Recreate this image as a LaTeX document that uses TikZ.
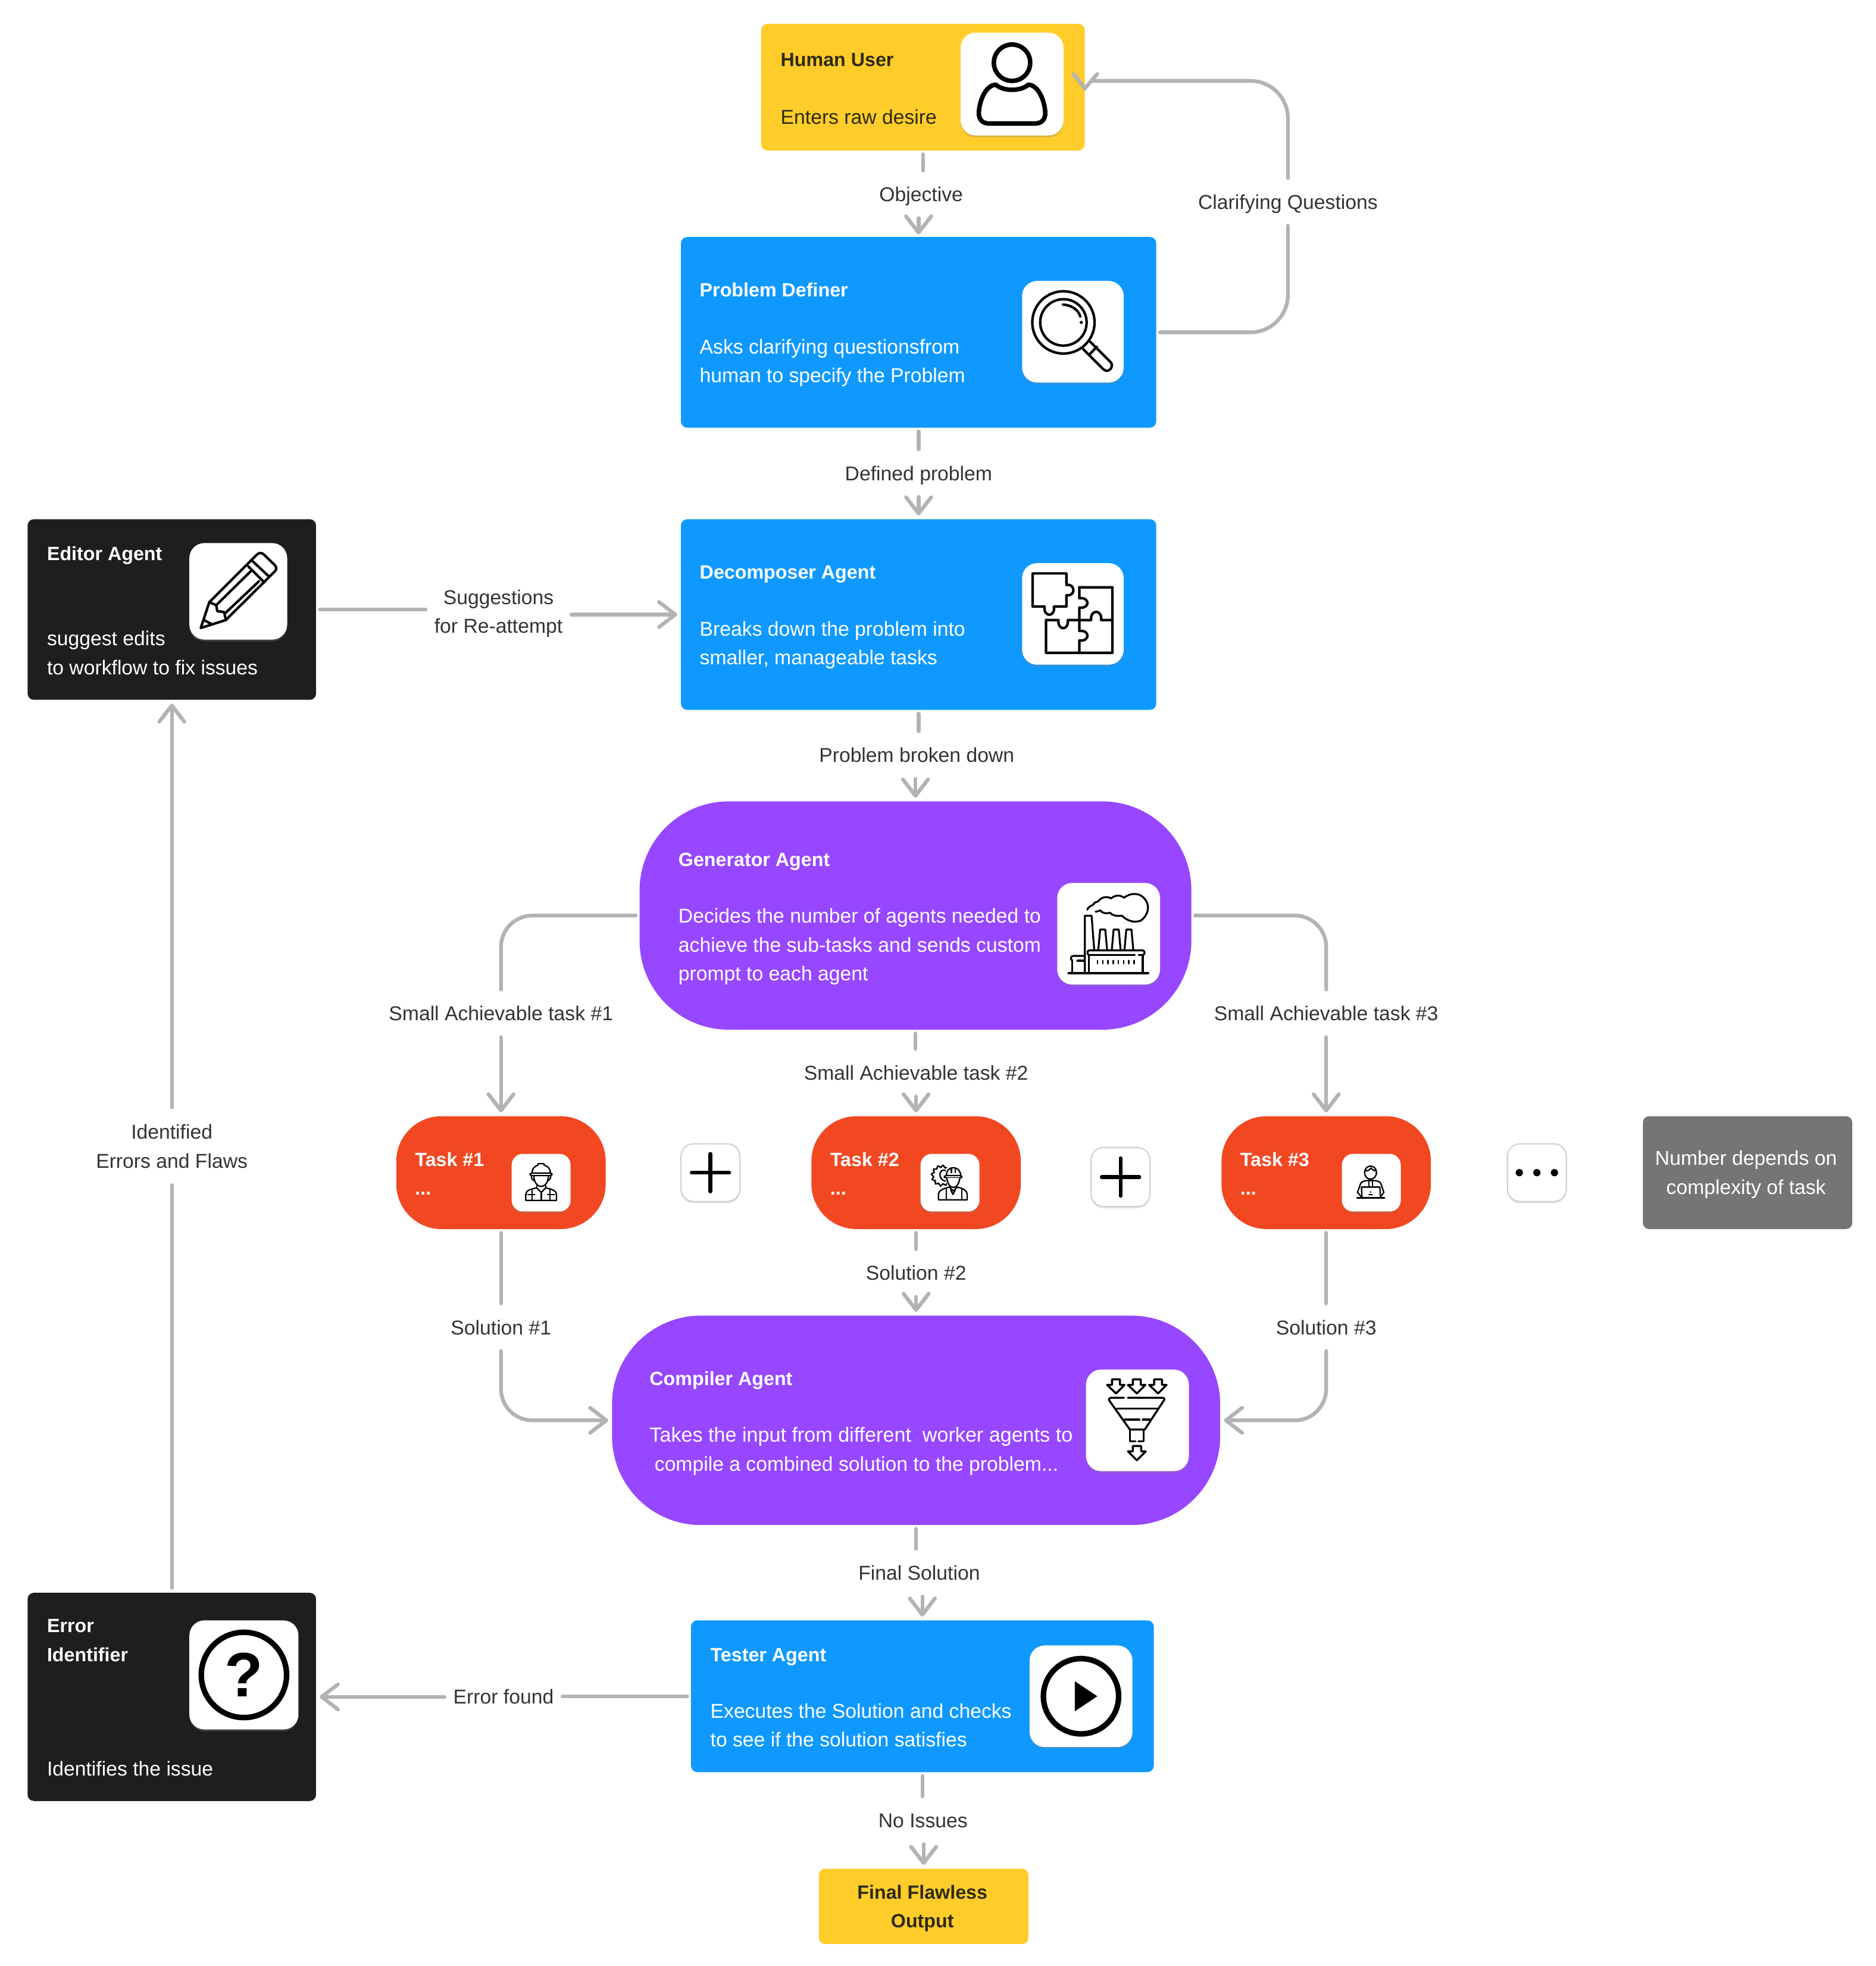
\documentclass[tikz,border=0pt]{standalone}
\usepackage{fontspec}
\setmainfont{Liberation Sans}
\usetikzlibrary{arrows.meta,calc,shadows}
\definecolor{cyel}{HTML}{FFCC29}
\definecolor{cblu}{HTML}{0F99FF}
\definecolor{cpur}{HTML}{9747FF}
\definecolor{cred}{HTML}{F24822}
\definecolor{cblk}{HTML}{1E1E1E}
\definecolor{cgry}{HTML}{757575}
\definecolor{cline}{HTML}{B3B3B3}
\definecolor{clab}{HTML}{333333}
\definecolor{cdark}{HTML}{2E2A12}
\newcommand{\bxn}[6]{%
  \pgfmathsetmacro{\bw}{#4-#2}\pgfmathsetmacro{\bh}{#5-#3}%
  \pgfmathsetmacro{\bcx}{(#4+#2)/2}\pgfmathsetmacro{\bcy}{(#5+#3)/2}%
  \node[boxbase,#6,minimum width=\bw pt,minimum height=\bh pt] (#1) at (\bcx,\bcy) {};}
\tikzset{
  x=1pt,y=-1pt,
  boxbase/.style={rectangle,inner sep=0pt,outer sep=0pt},
  rbox/.style={rounded corners=5pt},
  iconbox/.style={fill=white,rounded corners=12pt,drop shadow={shadow xshift=0pt,shadow yshift=-1.5pt,opacity=.3}},
  btnbox/.style={fill=white,draw=black!18,line width=1pt,rounded corners=10pt,drop shadow={shadow xshift=0pt,shadow yshift=-1.5pt,opacity=.2}},
  txt/.style={inner sep=0pt,outer sep=0pt,anchor=west,text height=11.5pt,text depth=0pt,font=\fontsize{16}{23}\selectfont},
  ttl/.style={txt,font=\fontsize{15.3}{23}\selectfont\bfseries},
  mtxt/.style={inner sep=0pt,outer sep=0pt,anchor=west,align=left,font=\fontsize{16}{23}\selectfont},
  lab/.style={inner xsep=7pt,inner ysep=0pt,outer sep=0pt,minimum height=38pt,text height=11.5pt,text depth=0pt,text=clab,font=\fontsize{16}{23}\selectfont},
  mlab/.style={inner xsep=7pt,inner ysep=0pt,outer sep=0pt,align=center,text=clab,font=\fontsize{16}{23}\selectfont},
  conn/.style={draw=cline,line width=3pt,line cap=round},
  arr/.style={conn,-{Straight Barb[length=13pt,width=20pt,round]}},
  ico/.style={draw=black,line width=2pt,line cap=round,line join=round},
  zm/.style 2 args={shift={(#1/2.107,#2/2.107)},x=0.1582pt,y=-0.1582pt},
}
\begin{document}
\begin{tikzpicture}
\useasboundingbox (0,0) rectangle (1495.5,1567.6);
\fill[white] (0,0) rectangle (1495.5,1567.6);

% ---------- boxes
\bxn{human}{607}{19}{865}{120}{fill=cyel,rbox}
\bxn{pd}{543}{189}{922}{341}{fill=cblu,rbox}
\bxn{dec}{543}{414}{922}{566}{fill=cblu,rbox}
\bxn{ed}{22}{414}{252}{558}{fill=cblk,rbox}
\bxn{gen}{510}{639}{950}{821}{fill=cpur,rounded corners=71pt}
\bxn{tone}{316}{890}{483}{980}{fill=cred,rounded corners=36pt}
\bxn{ttwo}{647}{890}{814}{980}{fill=cred,rounded corners=36pt}
\bxn{tthree}{974}{890}{1141}{980}{fill=cred,rounded corners=36pt}
\bxn{num}{1310}{890}{1477}{980}{fill=cgry,rbox}
\bxn{comp}{488}{1049}{973}{1216}{fill=cpur,rounded corners=71pt}
\bxn{test}{551}{1292}{920}{1413}{fill=cblu,rbox}
\bxn{err}{22}{1270}{252}{1436}{fill=cblk,rbox}
\bxn{fin}{653}{1490}{820}{1550}{fill=cyel,rbox}

% ---------- icon tiles
\bxn{ihuman}{766}{26}{848}{108}{iconbox}
\bxn{ipd}{815}{224}{896}{305}{iconbox}
\bxn{idec}{815}{449}{896}{530}{iconbox}
\bxn{ied}{151}{433}{229}{510}{iconbox}
\bxn{igen}{843}{704}{925}{785}{iconbox}
\bxn{ione}{408}{920}{455}{966}{iconbox,rounded corners=9pt}
\bxn{itwo}{734}{920}{781}{966}{iconbox,rounded corners=9pt}
\bxn{ithree}{1070}{920}{1117}{966}{iconbox,rounded corners=9pt}
\bxn{plusa}{543}{912}{590}{958}{btnbox}
\bxn{plusb}{870}{915}{917}{962}{btnbox}
\bxn{dotsb}{1202}{912}{1249}{958}{btnbox}
\bxn{icomp}{866}{1092}{948}{1173}{iconbox}
\bxn{itest}{821}{1312}{903}{1393}{iconbox}
\bxn{ierr}{151}{1292}{238}{1379}{iconbox}

% ---------- box texts
\node[ttl,text=cdark] (t1) at (622.5,47) {Human User};
\node[txt,text=cdark] (t2) at (622.5,93) {Enters raw desire};
\node[ttl,text=white] (t3) at (558,231) {Problem Definer};
\node[mtxt,text=white] (t4) at (558,289.3) {Asks clarifying questionsfrom\\human to specify the Problem};
\node[ttl,text=white] (t5) at (558,456) {Decomposer Agent};
\node[mtxt,text=white] (t6) at (558,514.3) {Breaks down the problem into\\smaller, manageable tasks};
\node[ttl,text=white] (t7) at (37.5,441) {Editor Agent};
\node[mtxt,text=white] (t8) at (37.5,520.5) {suggest edits\\to workflow to fix issues};
\node[ttl,text=white] (t9) at (541,685) {Generator Agent};
\node[mtxt,text=white] (t10) at (541,754.8) {Decides the number of agents needed to\\achieve the sub-tasks and sends custom\\prompt to each agent};
\node[ttl,text=white] (t11) at (331,924) {Task \#1};
\node[ttl,text=white] (t12) at (331,947) {...};
\node[ttl,text=white] (t13) at (662,924) {Task \#2};
\node[ttl,text=white] (t14) at (662,947) {...};
\node[ttl,text=white] (t15) at (989,924) {Task \#3};
\node[ttl,text=white] (t16) at (989,947) {...};
\node[inner sep=0pt,align=center,text=white,font=\fontsize{16}{23}\selectfont] (t17) at (1392.3,936.5) {Number depends on\\complexity of task};
\node[ttl,text=white] (t18) at (518,1099) {Compiler Agent};
\node[txt,text=white,font=\fontsize{16.2}{23}\selectfont] (t19) at (518,1144) {Takes the input from different\ \ worker agents to};
\node[txt,text=white] (t20) at (522,1167) {compile a combined solution to the problem...};
\node[ttl,text=white] (t21) at (566.5,1319) {Tester Agent};
\node[mtxt,text=white] (t22) at (566.5,1375.7) {Executes the Solution and checks\\to see if the solution satisfies};
\node[ttl,text=white] (t23) at (37.5,1296) {Error};
\node[ttl,text=white] (t24) at (37.5,1319) {Identifier};
\node[txt,text=white] (t25) at (37.5,1410) {Identifies the issue};
\node[inner sep=0pt,align=center,text=cdark,font=\fontsize{15.3}{23}\selectfont\bfseries] (t26) at (735.5,1521.5) {Final Flawless\\Output};

% ---------- connector labels
\node[lab] (lobj) at (734.5,155) {Objective};
\node[lab] (lcq) at (1027,161) {Clarifying Questions};
\node[lab] (ldef) at (732.5,377.3) {Defined problem};
\node[mlab,minimum height=50pt] (lsug) at (397.5,489.3) {Suggestions\\for Re-attempt};
\node[lab] (lpbd) at (731,602) {Problem broken down};
\node[lab] (lsa) at (399.5,808) {Small Achievable task \#1};
\node[lab] (lsb) at (730.5,855.3) {Small Achievable task \#2};
\node[lab] (lsc) at (1057.5,808) {Small Achievable task \#3};
\node[mlab,minimum height=62pt] (lid) at (137,914) {Identified\\Errors and Flaws};
\node[lab] (lsoa) at (399.5,1058.3) {Solution \#1};
\node[lab] (lsob) at (730.5,1015) {Solution \#2};
\node[lab] (lsoc) at (1057.5,1058.3) {Solution \#3};
\node[lab] (lfs) at (733,1254) {Final Solution};
\node[lab] (lef) at (401.5,1353) {Error found};
\node[lab] (lni) at (736,1451.3) {No Issues};

% ---------- connectors
\draw[conn,shorten <=3pt] (human.south) -- (human.south |- lobj.north);
\draw[arr,shorten >=2pt] (lobj.south -| pd.north) -- (pd.north);
\draw[conn,rounded corners=30pt,shorten <=3pt] (pd.east) -| (lcq.south);
\draw[conn,rounded corners=30pt] (lcq.north) |- ($(human.east)+(5,-5)$);
\draw[conn] ($(human.east)+(-9,-10.5)$) -- ($(human.east)+(0,1)$) -- ($(human.east)+(10,-10.5)$);
\draw[conn,shorten <=3pt] (pd.south) -- (pd.south |- ldef.north);
\draw[arr,shorten >=3pt] (ldef.south -| dec.north) -- (dec.north);
\draw[conn,shorten <=3pt] (ed.east) -- (lsug.west |- ed.east);
\draw[arr,shorten >=3pt] (lsug.east |- dec.west) -- (dec.west);
\draw[conn,shorten <=3pt] (dec.south) -- (dec.south |- lpbd.north);
\draw[arr,shorten >=3pt] (lpbd.south -| gen.north) -- (gen.north);
\draw[conn,rounded corners=25pt,shorten <=3pt] (gen.west) -| (lsa.north);
\draw[arr,shorten >=3pt] (lsa.south) -- (tone.north);
\draw[conn,shorten <=3pt] (gen.south) -- (gen.south |- lsb.north);
\draw[arr,shorten >=3pt] (lsb.south) -- (ttwo.north);
\draw[conn,rounded corners=25pt,shorten <=3pt] (gen.east) -| (lsc.north);
\draw[arr,shorten >=3pt] (lsc.south) -- (tthree.north);
\draw[conn,shorten <=3pt] (tone.south) -- (lsoa.north);
\draw[arr,rounded corners=25pt,shorten >=3pt] (lsoa.south) |- (comp.west);
\draw[conn,shorten <=3pt] (ttwo.south) -- (lsob.north);
\draw[arr,shorten >=3pt] (lsob.south) -- (comp.north);
\draw[conn,shorten <=3pt] (tthree.south) -- (lsoc.north);
\draw[arr,rounded corners=25pt,shorten >=3pt] (lsoc.south) |- (comp.east);
\draw[conn,shorten <=3pt] (comp.south) -- (comp.south |- lfs.north);
\draw[arr,shorten >=3pt] (lfs.south -| test.north) -- (test.north);
\draw[conn,shorten <=3pt] (test.west) -- (test.west -| lef.east);
\draw[arr,shorten >=3pt] (lef.west |- err.east) -- (err.east);
\draw[conn,shorten <=3pt] (test.south) -- (test.south |- lni.north);
\draw[arr,shorten >=3pt] (lni.south -| fin.north) -- (fin.north);
\draw[conn,shorten <=4pt] (err.north) -- (lid.south);
\draw[arr,shorten >=3pt] (lid.north) -- (ed.south);

% ---------- person
\draw[ico,line width=3.6pt] (807,50) circle (14.5);
\draw[ico,line width=3.6pt] (794,67.5) .. controls (800,73) and (814,73) .. (820,67.5)
  .. controls (828,68) and (833,80) .. (833.5,90) .. controls (833.5,96) and (830,98.5) .. (825,98.5)
  -- (789,98.5) .. controls (784,98.5) and (780.5,96) .. (780.5,90) .. controls (781,80) and (786,68) .. (794,67.5) -- cycle;

% ---------- magnifier
\begin{scope}[zm={1720}{470},ico,line width=2pt]
\draw (200,215) circle (157);
\draw (200,215) circle (117);
\draw (198,125) .. controls (240,128) and (275,150) .. (285,185);
\fill (290,215) circle (8);
\draw (335,312) -- (438,415) .. controls (458,438) and (425,478) .. (398,448) -- (300,350);
\draw (333,375) -- (368,338);
\end{scope}

% ---------- puzzle
\begin{scope}[zm={1720}{950},ico,line width=2pt]
\draw (45,40) -- (215,40) -- (215,98) .. controls (262,90) and (262,158) .. (215,150) -- (215,207) -- (152,207) .. controls (160,262) and (98,262) .. (105,207) -- (45,207) -- cycle;
\draw (280,110) -- (447,110) -- (447,440) -- (112,440) -- (112,275) -- (175,275) .. controls (170,330) and (228,330) .. (222,275) -- (340,275) .. controls (333,220) and (397,220) .. (390,275) -- (447,275);
\draw (280,110) -- (280,165) .. controls (335,158) and (335,220) .. (280,212) -- (280,330) .. controls (335,323) and (335,385) .. (280,378) -- (280,440);
\end{scope}

% ---------- pencil
\begin{scope}[zm={320}{910},ico,line width=2pt]
\draw (52,435) -- (95,305) -- (335,65) .. controls (345,55) and (360,55) .. (370,65) -- (425,118) .. controls (435,130) and (435,140) .. (425,150) -- (178,395) -- cycle;
\draw (292,125) -- (372,205);
\draw (315,100) -- (395,175);
\draw (130,320) -- (305,148);
\draw (178,358) -- (345,200);
\draw (95,305) -- (130,320) -- (135,350) -- (170,355) -- (178,395);
\draw (68,395) -- (105,415);
\end{scope}

% ---------- factory
\begin{scope}[zm={1770}{1470},ico,line width=1.5pt]
\draw (170,175) .. controls (175,160) and (190,155) .. (200,150) .. controls (205,135) and (222,137) .. (228,130) .. controls (240,112) and (270,105) .. (290,118) .. controls (310,100) and (340,100) .. (355,115) .. controls (385,90) and (430,88) .. (455,115) .. controls (490,150) and (480,200) .. (440,230) .. controls (400,245) and (365,225) .. (345,205) .. controls (325,208) and (300,208) .. (285,190) .. controls (265,197) and (245,192) .. (235,178) .. controls (228,182) and (220,185) .. (212,185);
\draw (158,495) -- (158,205) -- (192,205) -- (205,375);
\draw (178,495) -- (178,403);
\foreach \c in {248,316,380} \draw (\c-22,375) -- (\c-13,275) -- (\c+13,275) -- (\c+22,375);
\draw (410,403) -- (180,403) .. controls (168,403) and (168,380) .. (180,380) -- (450,380) .. controls (462,380) and (462,403) .. (450,403) -- (430,403);
\draw (450,403) -- (450,495);
\draw (75,495) -- (478,495);
\draw (155,408) -- (98,408) .. controls (85,408) and (85,430) .. (95,430);
\draw (95,430) -- (95,495);
\draw (120,432) -- (155,432);
\foreach \c in {222,248.3,274.6,300.9,327.1,353.4,379.7,406} \draw[line width=1.2pt] (\c,431) -- (\c,447);
\end{scope}

% ---------- worker 1
\begin{scope}[zm={850}{1925},ico,line width=1.1pt]
\draw (132,135) .. controls (132,115) and (145,102) .. (162,97) -- (162,90) -- (192,90) -- (192,97) .. controls (210,102) and (224,115) .. (224,135);
\draw[rounded corners=1.5pt] (122,137) rectangle (232,150);
\draw (128,150) .. controls (128,165) and (135,175) .. (143,175);
\draw (226,150) .. controls (226,165) and (219,175) .. (211,175);
\draw (141,152) .. controls (141,185) and (160,205) .. (178,205) .. controls (195,205) and (214,185) .. (214,152);
\draw (155,198) -- (155,212);
\draw (200,198) -- (200,212);
\draw (100,275) -- (100,245) .. controls (100,225) and (125,218) .. (155,212) -- (178,235) -- (200,212) .. controls (230,218) and (255,225) .. (255,245) -- (255,275) -- cycle;
\draw (132,222) -- (132,275);
\draw (222,222) -- (222,275);
\draw (178,235) -- (178,275);
\draw (110,245) -- (145,245);
\draw (210,245) -- (245,245);
\end{scope}

% ---------- worker 2
\begin{scope}[zm={1540}{1925},ico,line width=1.1pt]
\draw plot[domain=60:300,samples=33] ({127+(47+6*sign(sin(12*\x)))*cos(\x)},{150+(47+6*sign(sin(12*\x)))*sin(\x)});
\draw (145,125) .. controls (118,110) and (100,165) .. (145,178);
\draw[fill=white] (150,150) .. controls (150,125) and (165,110) .. (185,110) .. controls (205,110) and (222,125) .. (222,150);
\draw (175,112) -- (175,135);
\draw (195,112) -- (195,135);
\draw[fill=white,rounded corners=1.5pt] (140,150) rectangle (228,162);
\draw[fill=white] (152,162) .. controls (155,190) and (170,210) .. (185,210) .. controls (200,210) and (215,190) .. (218,162);
\draw (110,272) -- (110,245) .. controls (110,225) and (135,215) .. (165,208) -- (185,228) -- (205,208) .. controls (235,215) and (255,225) .. (255,245) -- (255,272) -- cycle;
\draw (172,222) -- (183,245) -- (195,222);
\draw (150,218) -- (150,272);
\draw (228,218) -- (228,272);
\end{scope}

% ---------- worker 3
\begin{scope}[zm={2250}{1925},ico,line width=1.1pt]
\draw (158,135) ellipse (30 and 33);
\draw (130,125) .. controls (145,130) and (155,118) .. (160,112) .. controls (168,120) and (175,130) .. (187,122);
\draw (113,258) -- (92,235) -- (108,190) .. controls (112,180) and (130,175) .. (145,175) -- (172,175) .. controls (190,175) and (205,180) .. (210,190) -- (225,235) -- (207,258);
\draw (150,178) -- (150,205);
\draw (168,178) -- (168,205);
\draw (112,208) -- (205,208) -- (208,262) -- (115,262) -- cycle;
\draw[line width=1.4pt] (90,263) -- (228,263);
\fill (158,233) circle (4);
\draw (150,245) -- (167,245);
\end{scope}

% ---------- plus, dots
\draw[ico,line width=3pt] ($(plusa.center)+(-15,0)$) -- ($(plusa.center)+(15,0)$);
\draw[ico,line width=3pt] ($(plusa.center)+(0,-15)$) -- ($(plusa.center)+(0,15)$);
\draw[ico,line width=3pt] ($(plusb.center)+(-15,0)$) -- ($(plusb.center)+(15,0)$);
\draw[ico,line width=3pt] ($(plusb.center)+(0,-15)$) -- ($(plusb.center)+(0,15)$);
\fill ($(dotsb.center)+(-14,0)$) circle (2.9);
\fill (dotsb.center) circle (2.9);
\fill ($(dotsb.center)+(14,0)$) circle (2.9);

% ---------- funnel
\begin{scope}[zm={1780}{2270},ico,line width=1.6pt]
\foreach \c in {285,390,497}
  \draw (\c-20,142) -- (\c+20,142) -- (\c+20,170) -- (\c+43,170) -- (\c,213) -- (\c-45,170) -- (\c-20,170) -- cycle;
\draw (325,235) -- (262,235) .. controls (250,235) and (247,243) .. (252,250) -- (355,395) -- (430,395) -- (525,250) .. controls (533,243) and (530,235) .. (518,235) -- (345,235);
\draw (290,290) -- (495,290);
\draw (330,345) -- (403,345);
\draw (420,345) -- (455,345);
\draw (355,395) -- (355,455) -- (383,455);
\draw (397,455) -- (425,455) -- (425,395);
\draw (370,478) -- (412,478) -- (412,505) -- (435,505) -- (390,550) -- (345,505) -- (370,505) -- cycle;
\end{scope}

% ---------- question, play
\draw[ico,line width=4.4pt] (ierr.center) circle (34);
\node[inner sep=0pt,font=\fontsize{50}{50}\selectfont\bfseries] (qm) at (ierr.center) {?};
\draw[ico,line width=4.4pt] (itest.center) circle (30);
\fill ($(itest.center)+(-5,-12)$) -- ($(itest.center)+(13,0)$) -- ($(itest.center)+(-5,12)$) -- cycle;
\end{tikzpicture}
\end{document}
